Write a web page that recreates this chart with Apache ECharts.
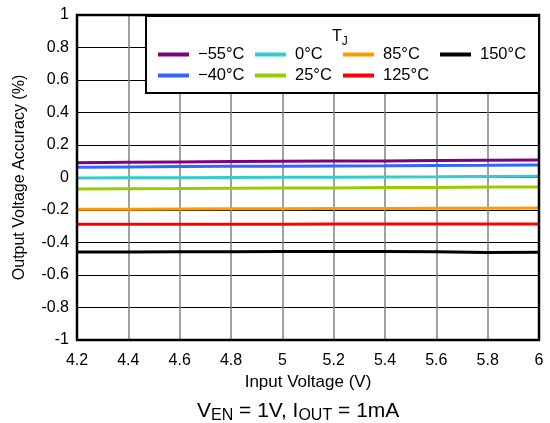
<!DOCTYPE html>
<html><head><meta charset="utf-8">
<script src="https://cdn.jsdelivr.net/npm/echarts@6/dist/echarts.min.js"></script>
<style>html,body{margin:0;padding:0;background:#fff}#c{width:550px;height:423px}</style>
</head><body><div id="c"></div>
<script>
const xValues = [4.2, 4.4, 4.6, 4.8, 5.0, 5.2, 5.4, 5.6, 5.8, 6.0];
const seriesNames = ['\u221255\u00b0C', '\u221240\u00b0C', '0\u00b0C', '25\u00b0C', '85\u00b0C', '125\u00b0C', '150\u00b0C'];
const seriesColors = ['#800080', '#3366ff', '#33cccc', '#99cc00', '#ff9900', '#ff0000', '#000000'];
const tm55 = [0.091, 0.094, 0.096, 0.098, 0.100, 0.101, 0.102, 0.104, 0.106, 0.108];
const tm40 = [0.063, 0.065, 0.067, 0.069, 0.070, 0.071, 0.072, 0.074, 0.075, 0.077];
const t0   = [-0.003, -0.002, -0.001, 0.000, 0.001, 0.002, 0.003, 0.004, 0.006, 0.007];
const t25  = [-0.071, -0.069, -0.068, -0.066, -0.065, -0.064, -0.062, -0.061, -0.059, -0.058];
const t85  = [-0.196, -0.195, -0.194, -0.193, -0.192, -0.191, -0.190, -0.189, -0.189, -0.188];
const t125 = [-0.288, -0.288, -0.287, -0.287, -0.287, -0.286, -0.286, -0.286, -0.286, -0.286];
const t150 = [-0.458, -0.458, -0.457, -0.457, -0.456, -0.456, -0.456, -0.457, -0.462, -0.460];
const allData = [tm55, tm40, t0, t25, t85, t125, t150];
const yTicks = [-1, -0.8, -0.6, -0.4, -0.2, 0, 0.2, 0.4, 0.6, 0.8, 1];

const FONT = 'Liberation Sans, Arial, sans-serif';
const chart = echarts.init(document.getElementById('c'));
const series = seriesNames.map((n, i) => ({
  name: n, type: 'line', showSymbol: false, symbol: 'none',
  data: xValues.map((x, k) => [x, allData[i][k]]),
  lineStyle: { color: seriesColors[i], width: 3 }, itemStyle: { color: seriesColors[i] },
  z: 3
}));
const legendCols = [
  { left: 153, data: [seriesNames[0], seriesNames[1]] },
  { left: 250, data: [seriesNames[2], seriesNames[3]] },
  { left: 338, data: [seriesNames[4], seriesNames[5]] },
  { left: 435, data: [seriesNames[6]] }
];
chart.setOption({
  animation: false,
  grid: { left: 77, right: 11, top: 15, bottom: 83, show: true, borderColor: '#000', borderWidth: 2.5, z: 5 },
  xAxis: {
    type: 'value', min: 4.2, max: 6, interval: 0.2,
    name: 'Input Voltage (V)', nameLocation: 'middle', nameGap: 33,
    nameTextStyle: { fontFamily: FONT, fontSize: 17, color: '#000' },
    axisLine: { show: false }, axisTick: { show: false },
    axisLabel: { fontFamily: FONT, fontSize: 16, color: '#000', margin: 13,
      formatter: v => String(+v.toFixed(1)) },
    splitLine: { show: true, lineStyle: { color: '#808080', width: 1.5 } }
  },
  yAxis: {
    type: 'value', min: -1, max: 1, interval: 0.2,
    name: 'Output Voltage Accuracy (%)', nameLocation: 'middle', nameGap: 49,
    nameTextStyle: { fontFamily: FONT, fontSize: 16, color: '#000' },
    axisLine: { show: false }, axisTick: { show: false },
    axisLabel: { fontFamily: FONT, fontSize: 16, color: '#000', margin: 8,
      formatter: v => String(+v.toFixed(1)) },
    splitLine: { show: true, lineStyle: { color: '#000', width: 1 } }
  },
  legend: legendCols.map(c => ({
    left: c.left, top: 41, orient: 'vertical', itemGap: 4, z: 20,
    itemWidth: 31, itemHeight: 15, data: c.data, selectedMode: false,
    icon: 'path://M0,5.5 L31,5.5 L31,9.5 L0,9.5 Z',
    textStyle: { fontFamily: FONT, fontSize: 16.5, color: '#000', padding: [0, 0, 0, 4] }
  })),
  graphic: [
    { type: 'rect', left: 145, top: 15, shape: { width: 393, height: 77 },
      style: { fill: '#fff', stroke: '#000', lineWidth: 2 }, z: 10 },
    { type: 'text', left: 332, top: 29, z: 11,
      style: { text: '{a|T}{b|J}', rich: {
        a: { fontFamily: FONT, fontSize: 16, fill: '#000' },
        b: { fontFamily: FONT, fontSize: 12, fill: '#000', padding: [9, 0, 0, 0] } } } },
    { type: 'text', left: 197, top: 401, z: 11,
      style: { text: '{a|V}{b|EN}{a| = 1V, I}{b|OUT}{a| = 1mA}', rich: {
        a: { fontFamily: FONT, fontSize: 21, fill: '#000' },
        b: { fontFamily: FONT, fontSize: 16, fill: '#000', padding: [9, 0, 0, 0] } } } }
  ],
  series: series
});
</script></body></html>
